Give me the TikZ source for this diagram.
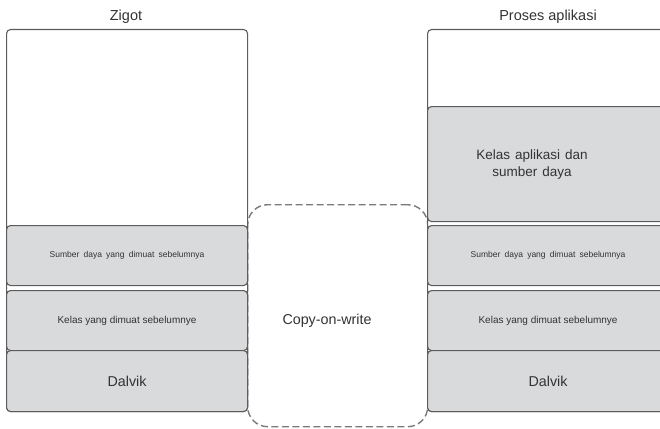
\documentclass[tikz,border=0pt]{standalone}
\usepackage{fontspec}
\setmainfont{Liberation Sans}
\definecolor{boxgray}{HTML}{D9DADC}
\definecolor{edge}{HTML}{5C5C5C}
\definecolor{ink}{HTML}{333333}
\definecolor{dashc}{HTML}{7A7A7A}
\newcommand\tinylabel{\fontsize{8.5}{10}\selectfont\spaceskip=4.2pt\relax}
\newcommand\applabel{\fontsize{13.5}{17}\selectfont\spaceskip=5pt\relax}
\begin{document}
\begin{tikzpicture}[x=1pt,y=-1pt,
  layer/.style={draw=edge, line width=1.1pt, rounded corners=4pt, fill=boxgray,
    minimum width=241pt, anchor=north west, inner sep=0pt, text=ink},
  frame/.style={layer, fill=white},
  title/.style={font=\fontsize{14.5}{16}\selectfont, text=ink},
  big/.style={font=\fontsize{14.3}{16}\selectfont},
  tiny/.style={font=\tinylabel},
  small/.style={font=\fontsize{10}{12}\selectfont},
  cowbox/.style={draw=dashc, dash pattern=on 7pt off 3.5pt, line width=1.4pt,
    rounded corners=20pt, minimum width=180pt, minimum height=222pt,
    anchor=north west, inner sep=0pt}]
\useasboundingbox (0,0) rectangle (660,428);
\clip (0,0) rectangle (660,428);

% shared region between the two processes
\node[cowbox] (cow) at (247,204) {};
\node[big, text=ink] (cowtext) at (327,321) {Copy-on-write};

% zygote process
\node[title] (ztitle) at (126,17) {Zigot};
\node[frame, minimum height=382pt] (zframe) at (6,29) {};
\node[layer, tiny, minimum height=60pt] (zres) at (6,225) {Sumber daya yang dimuat sebelumnya};
\node[layer, small, minimum height=60pt] (zcls) at (6,290) {Kelas yang dimuat sebelumnye};
\node[layer, big, minimum height=61pt] (zdvk) at (6,350) {Dalvik};

% application process
\node[title] (atitle) at (548,17) {Proses aplikasi};
\node[frame, minimum height=382pt] (aframe) at (427,29) {};
\node[layer, minimum height=115pt] (aapp) at (427,106) {};
\node[text=ink, align=center, font=\applabel] (aapptext) at (532,165) {Kelas aplikasi dan\\sumber daya};
\node[layer, tiny, minimum height=60pt] (ares) at (427,225) {Sumber daya yang dimuat sebelumnya};
\node[layer, small, minimum height=60pt] (acls) at (427,290) {Kelas yang dimuat sebelumnye};
\node[layer, big, minimum height=61pt] (advk) at (427,350) {Dalvik};
\end{tikzpicture}
\end{document}
